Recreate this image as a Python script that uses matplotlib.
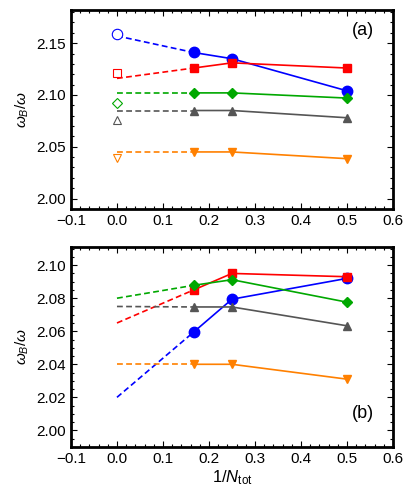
import matplotlib.pyplot as plt
from matplotlib.ticker import MultipleLocator

plt.rcParams['font.family'] = ['Liberation Sans', 'DejaVu Sans']
plt.rcParams['mathtext.fontset'] = 'custom'
plt.rcParams['mathtext.it'] = 'Liberation Sans:italic'
plt.rcParams['mathtext.rm'] = 'Liberation Sans'

x = [1/6, 1/4, 1/2]
colors = ['#0000ff', '#ff0000', '#00a800', '#555555', '#ff8000']
markers = ['o', 's', 'D', '^', 'v']
msizes = [7.5, 5.5, 5.5, 6, 6]

# panel (a)
a_vals = [[2.141, 2.135, 2.104],
          [2.126, 2.131, 2.126],
          [2.102, 2.102, 2.097],
          [2.085, 2.085, 2.078],
          [2.045, 2.045, 2.0385]]
a_extrap = [2.157, 2.116, 2.102, 2.085, 2.045]   # dashed line start at 1/N = 0
a_open = [2.1585, 2.121, 2.0925, 2.076, 2.039]   # open markers at 1/N = 0

# panel (b)
b_vals = [[2.0595, 2.0794, 2.092],
          [2.085, 2.095, 2.093],
          [2.0878, 2.0912, 2.0776],
          [2.0747, 2.0747, 2.0633],
          [2.040, 2.040, 2.031]]
b_extrap = [2.020, 2.065, 2.080, 2.075, 2.040]

fig = plt.figure(figsize=(4.15, 5.01), dpi=100)
axa = fig.add_axes([0.171, 0.583, 0.776, 0.397])
axb = fig.add_axes([0.171, 0.108, 0.776, 0.399])


def draw(ax, vals, extrap, open_pts=None):
    for i in range(len(vals)):
        c = colors[i]
        ax.plot([0, x[0]], [extrap[i], vals[i][0]], '--', color=c, lw=1.2, dashes=(3.5, 2))
        ax.plot(x, vals[i], '-', color=c, lw=1.2, marker=markers[i], ms=msizes[i],
                mfc=c, mec=c, zorder=3)
        if open_pts is not None:
            ax.plot([0], [open_pts[i]], marker=markers[i], ms=msizes[i],
                    mfc='white', mec=c, mew=0.8, ls='none', zorder=3)


draw(axa, a_vals, a_extrap, a_open)
draw(axb, b_vals, b_extrap)

for ax in (axa, axb):
    ax.set_xlim(-0.1, 0.6)
    ax.xaxis.set_major_locator(MultipleLocator(0.1))
    ax.xaxis.set_minor_locator(MultipleLocator(0.02))
    ax.tick_params(which='both', direction='in', top=True, right=True,
                   labelsize=11, width=0.8)
    ax.tick_params(which='major', length=4)
    ax.tick_params(which='minor', length=2)
    for s in ax.spines.values():
        s.set_linewidth(2)
    ax.set_ylabel(r'$\omega_B/\omega$', fontsize=11, labelpad=4)
    ax.xaxis.set_major_formatter(plt.FuncFormatter(lambda v, p: f'{v:.1f}'.replace('-', '\u2212')))

axa.set_ylim(1.99, 2.182)
axa.yaxis.set_major_locator(MultipleLocator(0.05))
axa.yaxis.set_minor_locator(MultipleLocator(0.01))
axa.yaxis.set_major_formatter(plt.FuncFormatter(lambda v, p: f'{v:.2f}'))
axa.text(0.535, 2.162, '(a)', fontsize=13, ha='center', va='center')

axb.set_ylim(1.99, 2.111)
axb.yaxis.set_major_locator(MultipleLocator(0.02))
axb.yaxis.set_minor_locator(MultipleLocator(0.005))
axb.yaxis.set_major_formatter(plt.FuncFormatter(lambda v, p: f'{v:.2f}'))
axb.text(0.535, 2.010, '(b)', fontsize=13, ha='center', va='center')
axb.set_xlabel(r'$1/N_{\mathrm{tot}}$', fontsize=12, labelpad=2)

fig.savefig('out.png', dpi=100)
